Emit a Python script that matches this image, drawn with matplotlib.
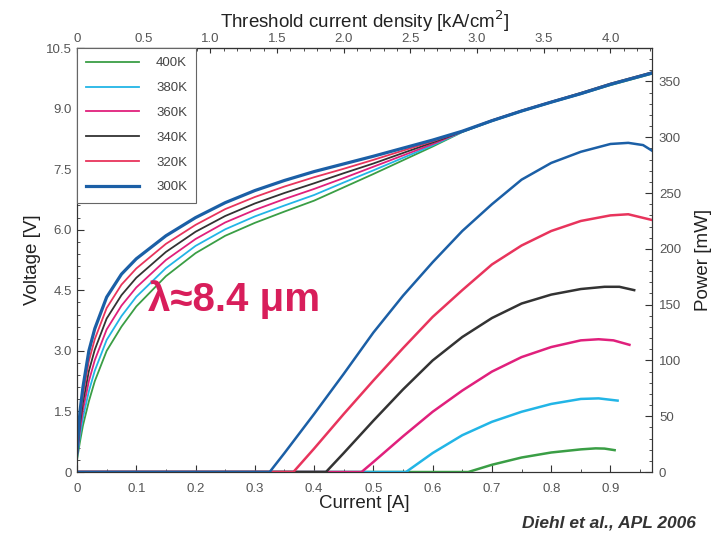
import numpy as np
import matplotlib
matplotlib.use("Agg")
import matplotlib.pyplot as plt
from matplotlib.ticker import MultipleLocator

plt.rcParams['font.family'] = ['Liberation Sans', 'DejaVu Sans']

temps = ["400K", "380K", "360K", "340K", "320K", "300K"]
colors = ["#3a9e45", "#22b5e6", "#e0207c", "#333333", "#e8345c", "#1b5fa6"]

# voltage curves, shared current grid [A]
current_v = [0, 0.005, 0.01, 0.02, 0.03, 0.05, 0.075, 0.1, 0.15, 0.2, 0.25, 0.3,
             0.35, 0.4, 0.45, 0.5, 0.55, 0.6, 0.65, 0.7, 0.75, 0.8, 0.85, 0.9,
             0.95, 0.97]
voltage = {
    "400K": [0.3, 0.75, 1.15, 1.75, 2.25, 3.0, 3.6, 4.1, 4.85, 5.42, 5.85, 6.17,
             6.45, 6.72, 7.05, 7.38, 7.72, 8.06, 8.42, 8.69, 8.93, 9.15, 9.36,
             9.58, 9.78, 9.86],
    "380K": [0.34, 0.9, 1.34, 2.0, 2.51, 3.27, 3.86, 4.34, 5.05, 5.6, 6.01, 6.33,
             6.6, 6.86, 7.17, 7.47, 7.78, 8.09, 8.42, 8.69, 8.93, 9.15, 9.36,
             9.59, 9.79, 9.87],
    "360K": [0.38, 1.05, 1.53, 2.25, 2.77, 3.53, 4.12, 4.57, 5.25, 5.77, 6.18,
             6.49, 6.76, 7.01, 7.28, 7.56, 7.84, 8.12, 8.43, 8.7, 8.94, 9.16,
             9.37, 9.6, 9.8, 9.88],
    "340K": [0.42, 1.2, 1.72, 2.5, 3.03, 3.8, 4.38, 4.81, 5.45, 5.95, 6.34, 6.65,
             6.91, 7.15, 7.4, 7.64, 7.9, 8.16, 8.43, 8.71, 8.95, 9.17, 9.39,
             9.62, 9.82, 9.9],
    "320K": [0.46, 1.35, 1.91, 2.75, 3.29, 4.06, 4.64, 5.04, 5.65, 6.12, 6.51,
             6.81, 7.07, 7.3, 7.51, 7.73, 7.96, 8.19, 8.44, 8.71, 8.95, 9.17,
             9.38, 9.61, 9.81, 9.89],
    "300K": [0.5, 1.5, 2.1, 3.0, 3.55, 4.33, 4.9, 5.28, 5.85, 6.3, 6.67, 6.97,
             7.22, 7.44, 7.63, 7.82, 8.02, 8.22, 8.44, 8.7, 8.94, 9.16, 9.37,
             9.6, 9.8, 9.88],
}

# output power curves [mW]
current_p = {
    "400K": [0, 0.66, 0.7, 0.75, 0.8, 0.85, 0.875, 0.89, 0.907],
    "380K": [0, 0.555, 0.6, 0.65, 0.7, 0.75, 0.8, 0.85, 0.88, 0.912],
    "360K": [0, 0.48, 0.5, 0.55, 0.6, 0.65, 0.7, 0.75, 0.8, 0.85, 0.88, 0.905, 0.932],
    "340K": [0, 0.42, 0.45, 0.5, 0.55, 0.6, 0.65, 0.7, 0.75, 0.8, 0.85, 0.89, 0.915, 0.94],
    "320K": [0, 0.365, 0.4, 0.45, 0.5, 0.55, 0.6, 0.65, 0.7, 0.75, 0.8, 0.85, 0.9,
             0.93, 0.969],
    "300K": [0, 0.325, 0.35, 0.4, 0.45, 0.5, 0.55, 0.6, 0.65, 0.7, 0.75, 0.8, 0.85,
             0.9, 0.93, 0.955, 0.97],
}
power = {
    "400K": [0, 0, 6.5, 13, 17.5, 20.3, 21.2, 21, 19.6],
    "380K": [0, 0, 17, 33, 45, 54, 61, 65.5, 66, 64],
    "360K": [0, 0, 9, 32, 54, 73, 90, 103, 112, 118, 119, 118, 114],
    "340K": [0, 0, 17, 46, 74, 100, 121, 138, 151, 159, 164, 166, 166, 163],
    "320K": [0, 0, 21, 52, 82, 111, 139, 163, 186, 203, 216, 225, 230, 231, 226],
    "300K": [0, 0, 17, 52, 88, 125, 158, 188, 216, 240, 262, 277, 287, 294, 295,
             293, 288],
}

# threshold current density per ampere (4.0 kA/cm2 at 0.9 A)
j_per_amp = 4.0 / 0.9

fig = plt.figure(figsize=(7.17, 5.37), dpi=100)
ax = fig.add_axes([0.1074, 0.121, 0.8019, 0.7896])
ax2 = ax.twinx()

handles = []
for t, c in zip(temps, colors):
    lw = 2.3 if t == "300K" else 1.3
    h, = ax.plot(current_v, voltage[t], color=c, lw=lw)
    handles.append(h)
    ax2.plot(current_p[t], power[t], color=c, lw=1.8)

ax.set_xlim(0, 0.97)
ax.set_ylim(0, 10.5)
ax2.set_ylim(0, 380)

tick_color = "#555555"
ax.set_xticks(np.arange(0, 0.91, 0.1))
ax.set_xticklabels(["0"] + [f"{v:.1f}" for v in np.arange(0.1, 0.91, 0.1)])
ax.set_yticks(np.arange(0, 10.6, 1.5))
ax.set_yticklabels(["0"] + [f"{v:.1f}" for v in np.arange(1.5, 10.6, 1.5)])
ax.xaxis.set_minor_locator(MultipleLocator(0.05))
ax.yaxis.set_minor_locator(MultipleLocator(0.3))
ax2.set_yticks(np.arange(0, 351, 50))
ax2.yaxis.set_minor_locator(MultipleLocator(10))

for a in (ax, ax2):
    a.tick_params(which="both", direction="in", labelsize=9.5, labelcolor=tick_color,
                  color="#333333")
    a.tick_params(which="major", length=5)
    a.tick_params(which="minor", length=2.5)
ax.tick_params(axis="x", pad=8)
ax2.tick_params(axis="y", pad=5)

top = ax.secondary_xaxis("top", functions=(lambda i: i * j_per_amp,
                                            lambda j: j / j_per_amp))
top.set_xticks(np.arange(0, 4.01, 0.5))
top.set_xticklabels(["0"] + [f"{v:.1f}" for v in np.arange(0.5, 4.01, 0.5)])
top.xaxis.set_minor_locator(MultipleLocator(0.1))
top.tick_params(which="both", direction="in", labelsize=9.5, labelcolor=tick_color,
                color="#333333", pad=2)
top.tick_params(which="minor", length=2.5)
top.set_xlabel("Threshold current density [kA/cm$^2$]", fontsize=13.5, labelpad=4,
               color="#222222")

ax.set_xlabel("Current [A]", fontsize=13.5, labelpad=0, color="#222222")
ax.set_ylabel("Voltage [V]", fontsize=13.5, labelpad=4, color="#222222")
ax2.set_ylabel("Power [mW]", fontsize=13.5, labelpad=10, color="#222222")

for a in (ax, ax2):
    for s in a.spines.values():
        s.set_color("#333333")

leg = ax2.legend(handles, temps, loc="upper left", borderaxespad=0, fontsize=9.5,
                 labelspacing=0.95, handlelength=4.0, handletextpad=1.3,
                 borderpad=0.7, fancybox=False, framealpha=1,
                 edgecolor="#666666", labelcolor="#444444")
leg.get_frame().set_linewidth(0.8)

ax.text(0.12, 4.26, "λ≈8.4 μm", color="#d81e5b", fontsize=29, fontweight="bold",
        va="center", ha="left")

fig.text(0.97, 0.012, "Diehl et al., APL 2006", ha="right", va="bottom",
         fontsize=12.5, fontweight="bold", style="italic", color="#333333")

fig.savefig("out.png", dpi=100)
